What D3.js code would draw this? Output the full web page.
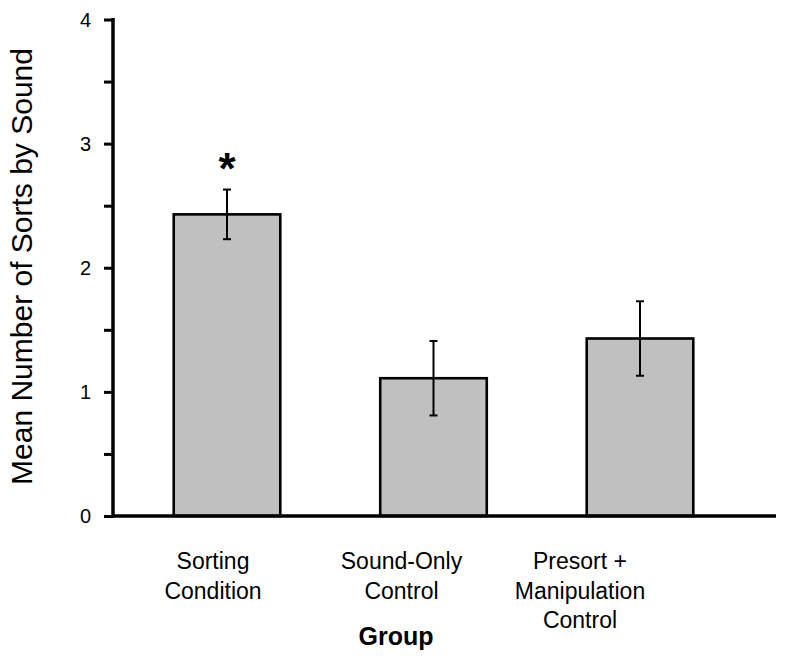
<!DOCTYPE html>
<html>
<head>
<meta charset="utf-8">
<script src="https://cdn.jsdelivr.net/npm/d3@7"></script>
<style>
  html, body { margin: 0; padding: 0; background: #fff; }
  svg { display: block; font-family: "Liberation Sans", Arial, sans-serif; }
</style>
</head>
<body>
<svg id="chart" width="792" height="662"></svg>
<script>
// ---- data ----
const categories = ["Sorting Condition", "Sound-Only Control", "Presort + Manipulation Control"];
const labelLines = [["Sorting", "Condition"], ["Sound-Only", "Control"], ["Presort +", "Manipulation", "Control"]];
const means = [2.43, 1.11, 1.43];
const errors = [0.20, 0.30, 0.30];
const significant = [true, false, false];
const yTicks = [0, 1, 2, 3, 4];
const yMinorTicks = [0, 0.5, 1, 1.5, 2, 2.5, 3, 3.5, 4];
const yTitle = "Mean Number of Sorts by Sound";
const xTitle = "Group";

// ---- layout ----
const svg = d3.select("#chart");
const axisX0 = 113, axisX1 = 776, axisY0 = 516, axisYTop = 19.5;
const labelShift = [-14, -32, -60];

const x = d3.scaleBand()
  .domain(categories)
  .range([123.75, 743.25])
  .paddingInner(0.484)
  .paddingOuter(0.242);

const y = d3.scaleLinear().domain([0, 4]).range([axisY0, axisYTop]);

// bars
svg.append("g").selectAll("rect")
  .data(categories)
  .join("rect")
  .attr("x", d => x(d))
  .attr("y", (d, i) => y(means[i]))
  .attr("width", x.bandwidth())
  .attr("height", (d, i) => y(0) - y(means[i]))
  .attr("fill", "#c0c0c0")
  .attr("stroke", "#000")
  .attr("stroke-width", 2.6);

// error bars
const eb = svg.append("g").attr("stroke", "#000").attr("stroke-width", 2);
categories.forEach((c, i) => {
  const cx = x(c) + x.bandwidth() / 2;
  const hi = y(means[i] + errors[i]), lo = y(means[i] - errors[i]);
  eb.append("line").attr("x1", cx).attr("x2", cx).attr("y1", hi).attr("y2", lo);
  eb.append("line").attr("x1", cx - 4).attr("x2", cx + 4).attr("y1", hi).attr("y2", hi);
  eb.append("line").attr("x1", cx - 4).attr("x2", cx + 4).attr("y1", lo).attr("y2", lo);
  if (significant[i]) {
    svg.append("text")
      .attr("x", cx)
      .attr("y", hi - 2)
      .attr("text-anchor", "middle")
      .attr("font-weight", "bold")
      .attr("font-size", 44)
      .attr("dy", "0.62em")
      .attr("transform", `translate(0,-${44*0.62 + 4})`)
      .text("*");
  }
});

// y axis
const yAxis = d3.axisLeft(y).tickValues(yMinorTicks).tickSize(9).tickFormat("");
const gy = svg.append("g").attr("transform", `translate(${axisX0},0)`).call(yAxis);
gy.select(".domain").remove();
gy.selectAll(".tick line").attr("stroke", "#000").attr("stroke-width", 3);
svg.append("line")
  .attr("x1", axisX0).attr("x2", axisX0)
  .attr("y1", axisYTop - 1.5).attr("y2", axisY0 + 1.5)
  .attr("stroke", "#000").attr("stroke-width", 3.5);

// y tick labels
svg.append("g").selectAll("text")
  .data(yTicks)
  .join("text")
  .attr("x", 91)
  .attr("y", d => y(d))
  .attr("dy", "0.36em")
  .attr("text-anchor", "end")
  .attr("font-size", 20)
  .attr("fill", "#000")
  .text(d => d);

// x axis line
svg.append("line")
  .attr("x1", axisX0).attr("x2", axisX1)
  .attr("y1", axisY0).attr("y2", axisY0)
  .attr("stroke", "#000").attr("stroke-width", 3.5);

// category labels
categories.forEach((c, i) => {
  const cx = x(c) + x.bandwidth() / 2 + labelShift[i];
  const t = svg.append("text")
    .attr("text-anchor", "middle")
    .attr("font-size", 23)
    .attr("fill", "#000");
  labelLines[i].forEach((ln, j) => {
    t.append("tspan").attr("x", cx).attr("y", 569 + j * 29.5).text(ln);
  });
});

// x title
svg.append("text")
  .attr("x", 396)
  .attr("y", 645)
  .attr("text-anchor", "middle")
  .attr("font-size", 25)
  .attr("font-weight", "bold")
  .attr("fill", "#000")
  .text(xTitle);

// y title
svg.append("text")
  .attr("transform", "translate(32,266.5) rotate(-90)")
  .attr("text-anchor", "middle")
  .attr("font-size", 30)
  .attr("fill", "#000")
  .text(yTitle);
</script>
</body>
</html>
